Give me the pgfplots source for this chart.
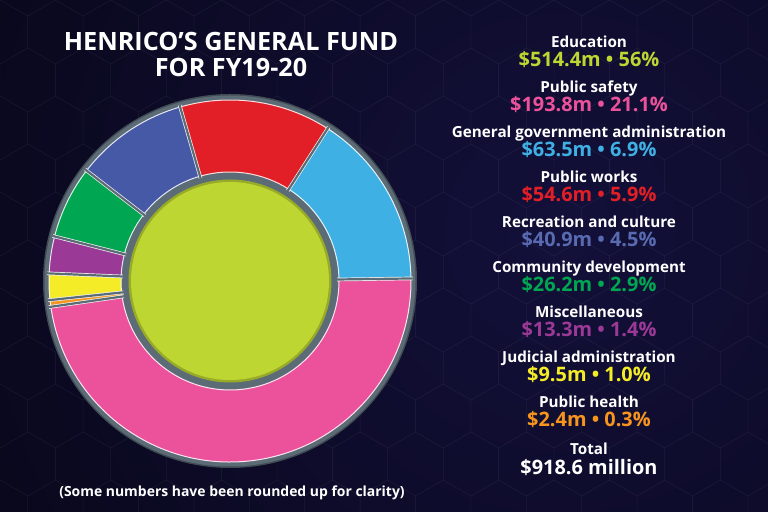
\documentclass[border=0pt]{standalone}
\usepackage{pgfplots}
\pgfplotsset{compat=1.18}
\usepackage{pgfplotstable}
\usepackage{fontspec}
\setmainfont{Open Sans}

\definecolor{bgnavy}{RGB}{19,16,58}
\definecolor{bgdark}{RGB}{3,3,10}
\definecolor{ringgray}{RGB}{92,108,118}
\definecolor{cLime}{RGB}{190,214,50}
\definecolor{cPink}{RGB}{236,82,155}
\definecolor{cLBlue}{RGB}{62,176,228}
\definecolor{cRed}{RGB}{226,30,38}
\definecolor{cNavy}{RGB}{70,89,167}
\definecolor{cGreen}{RGB}{0,166,81}
\definecolor{cPurple}{RGB}{155,57,150}
\definecolor{cYellow}{RGB}{245,236,40}
\definecolor{cOrange}{RGB}{247,148,29}

% outer ring: the non-education categories, counter-clockwise from the right
\pgfplotstableread{
name value col
GGA 63.5 cLBlue
Works 54.6 cRed
Recreation 40.9 cNavy
Community 26.2 cGreen
Misc 13.3 cPurple
Judicial 9.5 cYellow
Health 2.4 cOrange
Safety 193.8 cPink
}\ringdata

\begin{document}
\begin{tikzpicture}[x=1bp,y=1bp]
\useasboundingbox (0,0) rectangle (768,512);
\fill[bgdark] (0,0) rectangle (768,512);
\begin{scope}
\clip (0,0) rectangle (768,512);
\shade[inner color=bgnavy, outer color=bgdark] (560,280) circle (1000);
% faint hexagon texture
\begin{scope}[draw=white, opacity=0.028, line width=0.8bp]
\foreach \row in {0,...,12}{
  \foreach \col in {0,...,16}{
    \pgfmathsetmacro\hx{\col*55.4+mod(\row,2)*27.7}
    \pgfmathsetmacro\hy{\row*48}
    \draw (\hx,\hy) +(90:32) -- +(150:32) -- +(210:32) -- +(270:32) -- +(330:32) -- +(30:32) -- cycle;
  }
}
\end{scope}
\end{scope}

\begin{axis}[at={(230,231)}, anchor=center, x=1bp, y=1bp,
  xmin=-190, xmax=190, ymin=-190, ymax=190, hide axis, clip=false]
  % base gray disc
  \fill[ringgray!70!black] (axis cs:0,0) circle[radius=187bp];
  \fill[ringgray] (axis cs:0,0) circle[radius=185.5bp];
  % total of the ring
  \pgfmathsetmacro\total{0}
  \pgfplotsforeachungrouped \i in {0,...,7}{%
    \pgfplotstablegetelem{\i}{value}\of\ringdata
    \pgfmathsetmacro\total{\total+\pgfplotsretval}%
  }
  \def\ro{181}\def\ri{109}\def\startang{0.8}
  \pgfmathsetmacro\cum{0}
  \pgfplotsforeachungrouped \i in {0,...,7}{%
    \pgfplotstablegetelem{\i}{value}\of\ringdata \let\wval\pgfplotsretval
    \pgfplotstablegetelem{\i}{col}\of\ringdata \let\wcol\pgfplotsretval
    \pgfmathsetmacro\angA{\startang+\cum/\total*360}%
    \pgfmathsetmacro\angB{\startang+(\cum+\wval)/\total*360}%
    \pgfmathsetmacro\cum{\cum+\wval}%
    \edef\wedgecmd{\noexpand\fill[\wcol, draw=white!85!\wcol, line width=1bp]
      (axis cs:{\ro*cos(\angA)},{\ro*sin(\angA)})
      arc[start angle=\angA, end angle=\angB, radius=\ro bp]
      -- (axis cs:{\ri*cos(\angB)},{\ri*sin(\angB)})
      arc[start angle=\angB, end angle=\angA, radius=\ri bp] -- cycle;}%
    \wedgecmd
  }
  % separators between the slices
  \pgfmathsetmacro\cum{0}
  \pgfplotsforeachungrouped \i in {0,...,7}{%
    \pgfplotstablegetelem{\i}{value}\of\ringdata \let\wval\pgfplotsretval
    \pgfmathsetmacro\angA{\startang+\cum/\total*360}%
    \pgfmathsetmacro\cum{\cum+\wval}%
    \edef\sepcmd{\noexpand\draw[white!90!gray, line width=3.6bp]
      (axis cs:{106*cos(\angA)},{106*sin(\angA)}) -- (axis cs:{183*cos(\angA)},{183*sin(\angA)});
      \noexpand\draw[ringgray, line width=2.2bp]
      (axis cs:{104*cos(\angA)},{104*sin(\angA)}) -- (axis cs:{185*cos(\angA)},{185*sin(\angA)});}%
    \sepcmd
  }
  % inner disc: Education
  \fill[ringgray] (axis cs:0,0) circle[radius=107bp];
  \fill[cLime!80!black] (axis cs:0,0) circle[radius=101.5bp];
  \fill[cLime] (axis cs:0,0) circle[radius=99bp];
\end{axis}

% title
\node[anchor=base, white, font=\fontsize{25.3}{28}\selectfont\bfseries] at (231,461) {HENRICO’S GENERAL FUND};
\node[anchor=base, white, font=\fontsize{25.3}{28}\selectfont\bfseries] at (231,435) {FOR FY19-20};

% legend column
\newcommand{\entry}[4]{%
  \node[anchor=base, white, font=\fontsize{15.3}{17}\selectfont\bfseries] at (589,{512-48-44.9*#1}) {#2};
  \node[anchor=base, text=#4, font=\fontsize{20}{22}\selectfont\bfseries] at (589,{512-67-44.9*#1}) {#3};}
\entry{0}{Education}{\$514.4m • 56\%}{cLime}
\entry{1}{Public safety}{\$193.8m • 21.1\%}{cPink}
\entry{2}{General government administration}{\$63.5m • 6.9\%}{cLBlue}
\entry{3}{Public works}{\$54.6m • 5.9\%}{cRed}
\entry{4}{Recreation and culture}{\$40.9m • 4.5\%}{cNavy!90!white}
\entry{5}{Community development}{\$26.2m • 2.9\%}{cGreen}
\entry{6}{Miscellaneous}{\$13.3m • 1.4\%}{cPurple}
\entry{7}{Judicial administration}{\$9.5m • 1.0\%}{cYellow}
\entry{8}{Public health}{\$2.4m • 0.3\%}{cOrange}
\node[anchor=base, white, font=\fontsize{15.3}{17}\selectfont\bfseries] at (589,57) {Total};
\node[anchor=base, white, font=\fontsize{20}{22}\selectfont\bfseries] at (589,37) {\$918.6 million};

\node[anchor=base, white, font=\fontsize{14}{16}\selectfont\bfseries] at (232,15) {(Some numbers have been rounded up for clarity)};
\end{tikzpicture}
\end{document}
